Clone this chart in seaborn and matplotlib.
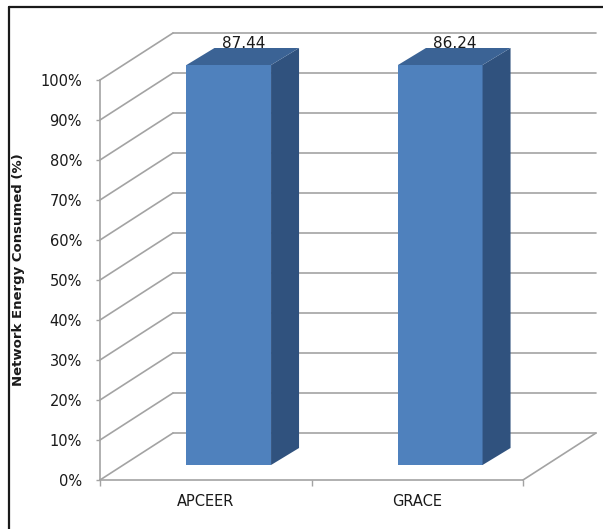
import matplotlib
matplotlib.use("Agg")
import matplotlib.pyplot as plt
import seaborn as sns
import numpy as np
from matplotlib.patches import ConnectionPatch, Polygon
from matplotlib.lines import Line2D
from matplotlib.ticker import PercentFormatter

# ---- data ----
categories = ["APCEER", "GRACE"]
energy_values = [87.44, 86.24]      # labels shown above the bars
share_percent = [100, 100]          # 100% stacked column heights
y_ticks = [0, 10, 20, 30, 40, 50, 60, 70, 80, 90, 100]
y_label = "Network Energy Consumed (%)"

# ---- style ----
sns.set_theme(style="white")
plt.rcParams['font.family'] = ['DejaVu Sans']

W, H = 603, 529
DPI = 100
fig = plt.figure(figsize=(W / DPI, H / DPI), dpi=DPI)
fig.patch.set_facecolor("white")

GRID = "#a3a3a3"
FRONT = "#4F81BD"
TOP = "#3B6395"
SIDE = "#30527E"

# pixel geometry (image coords: origin top-left)
fx0, fx1 = 100, 523          # front plane x span
fy0, fy1 = 480, 80           # front plane 0% and 100%
back_off = (73, 47)          # back wall offset (right, up)
bar_off = (23, 15)           # bar front face offset
depth = (28, 17)             # bar depth (right, up)


def rect(dx, dy):
    left = (fx0 + dx) / W
    bottom = (H - fy0 + dy) / H
    return [left, bottom, (fx1 - fx0) / W, (fy0 - fy1) / H]


ax_back = fig.add_axes(rect(*back_off), zorder=0)
ax_bar = fig.add_axes(rect(*bar_off), zorder=2)
ax_front = fig.add_axes(rect(0, 0), zorder=1)

for ax in (ax_back, ax_bar, ax_front):
    ax.set_xlim(-0.5, 1.5)
    ax.set_ylim(0, 100)
    ax.patch.set_alpha(0)

# back wall gridlines
ax_back.set_yticks(y_ticks)
ax_back.set_xticks([])
ax_back.tick_params(left=False, labelleft=False, bottom=False, labelbottom=False)
ax_back.yaxis.grid(True, color=GRID, lw=1.2)
for ln in ax_back.get_ygridlines():
    ln.set_clip_on(False)
for s in ax_back.spines.values():
    s.set_visible(False)

# diagonals between front axis and back wall
for v in y_ticks:
    cp = ConnectionPatch(xyA=(-0.5, v), coordsA=ax_front.transData,
                         xyB=(-0.5, v), coordsB=ax_back.transData,
                         color=GRID, lw=1.2, zorder=0.5)
    fig.add_artist(cp)
cp = ConnectionPatch(xyA=(1.5, 0), coordsA=ax_front.transData,
                     xyB=(1.5, 0), coordsB=ax_back.transData,
                     color=GRID, lw=1.2, zorder=0.5)
fig.add_artist(cp)

# bars
sns.barplot(x=categories, y=share_percent, ax=ax_bar, width=0.4,
            color=FRONT, saturation=1, edgecolor="none")
ax_bar.set_xlim(-0.5, 1.5)
ax_bar.set_ylim(0, 100)
ax_bar.axis("off")

dx, dy = depth
for i, p in enumerate(ax_bar.patches):
    x0, w, h = p.get_x(), p.get_width(), p.get_height()
    (lx, by), (rx, ty) = ax_bar.transData.transform([(x0, 0), (x0 + w, h)])
    side = Polygon([(rx, by), (rx + dx, by + dy), (rx + dx, ty + dy), (rx, ty)],
                   closed=True, transform=None, facecolor=SIDE, edgecolor="none",
                   zorder=3)
    top = Polygon([(lx, ty), (rx, ty), (rx + dx, ty + dy), (lx + dx, ty + dy)],
                  closed=True, transform=None, facecolor=TOP, edgecolor="none",
                  zorder=3)
    fig.add_artist(side)
    fig.add_artist(top)
    ax_bar.annotate(f"{energy_values[i]:.2f}", xy=(x0 + w / 2, h),
                    xytext=(15, 22), textcoords="offset pixels",
                    ha="center", va="center", fontsize=11, color="#1a1a1a",
                    annotation_clip=False, zorder=4)

# front axes: axis lines, ticks and labels
for s in ("top", "right"):
    ax_front.spines[s].set_visible(False)
for s in ("left", "bottom"):
    ax_front.spines[s].set_color(GRID)
    ax_front.spines[s].set_linewidth(1.2)
ax_front.set_yticks(y_ticks)
ax_front.yaxis.set_major_formatter(PercentFormatter(decimals=0))
ax_front.tick_params(axis="y", direction="out", length=3, width=1, color=GRID,
                     pad=10, labelsize=10.5, labelcolor="#1a1a1a", left=True)
ax_front.set_xticks([0, 1])
ax_front.set_xticklabels(categories)
ax_front.set_xticks([-0.5, 0.5, 1.5], minor=True)
ax_front.tick_params(axis="x", which="major", length=0, pad=10,
                     labelsize=10.5, labelcolor="#1a1a1a")
ax_front.tick_params(axis="x", which="minor", direction="out", length=4,
                     width=1, color=GRID, bottom=True)
ax_front.set_ylabel(y_label, fontsize=9.5, fontweight="bold", color="#1a1a1a")
ax_front.yaxis.set_label_coords((25 - fx0) / (fx1 - fx0), (fy0 - 270) / (fy0 - fy1))

# outer frame (left and top edges visible)
fig.add_artist(Line2D([9 / W, 9 / W], [0, (H - 7) / H], transform=fig.transFigure,
                      color="#1a1a1a", lw=1.6))
fig.add_artist(Line2D([9 / W, 1], [(H - 7) / H, (H - 7) / H], transform=fig.transFigure,
                      color="#1a1a1a", lw=1.6))

fig.savefig("out.png", dpi=DPI)
